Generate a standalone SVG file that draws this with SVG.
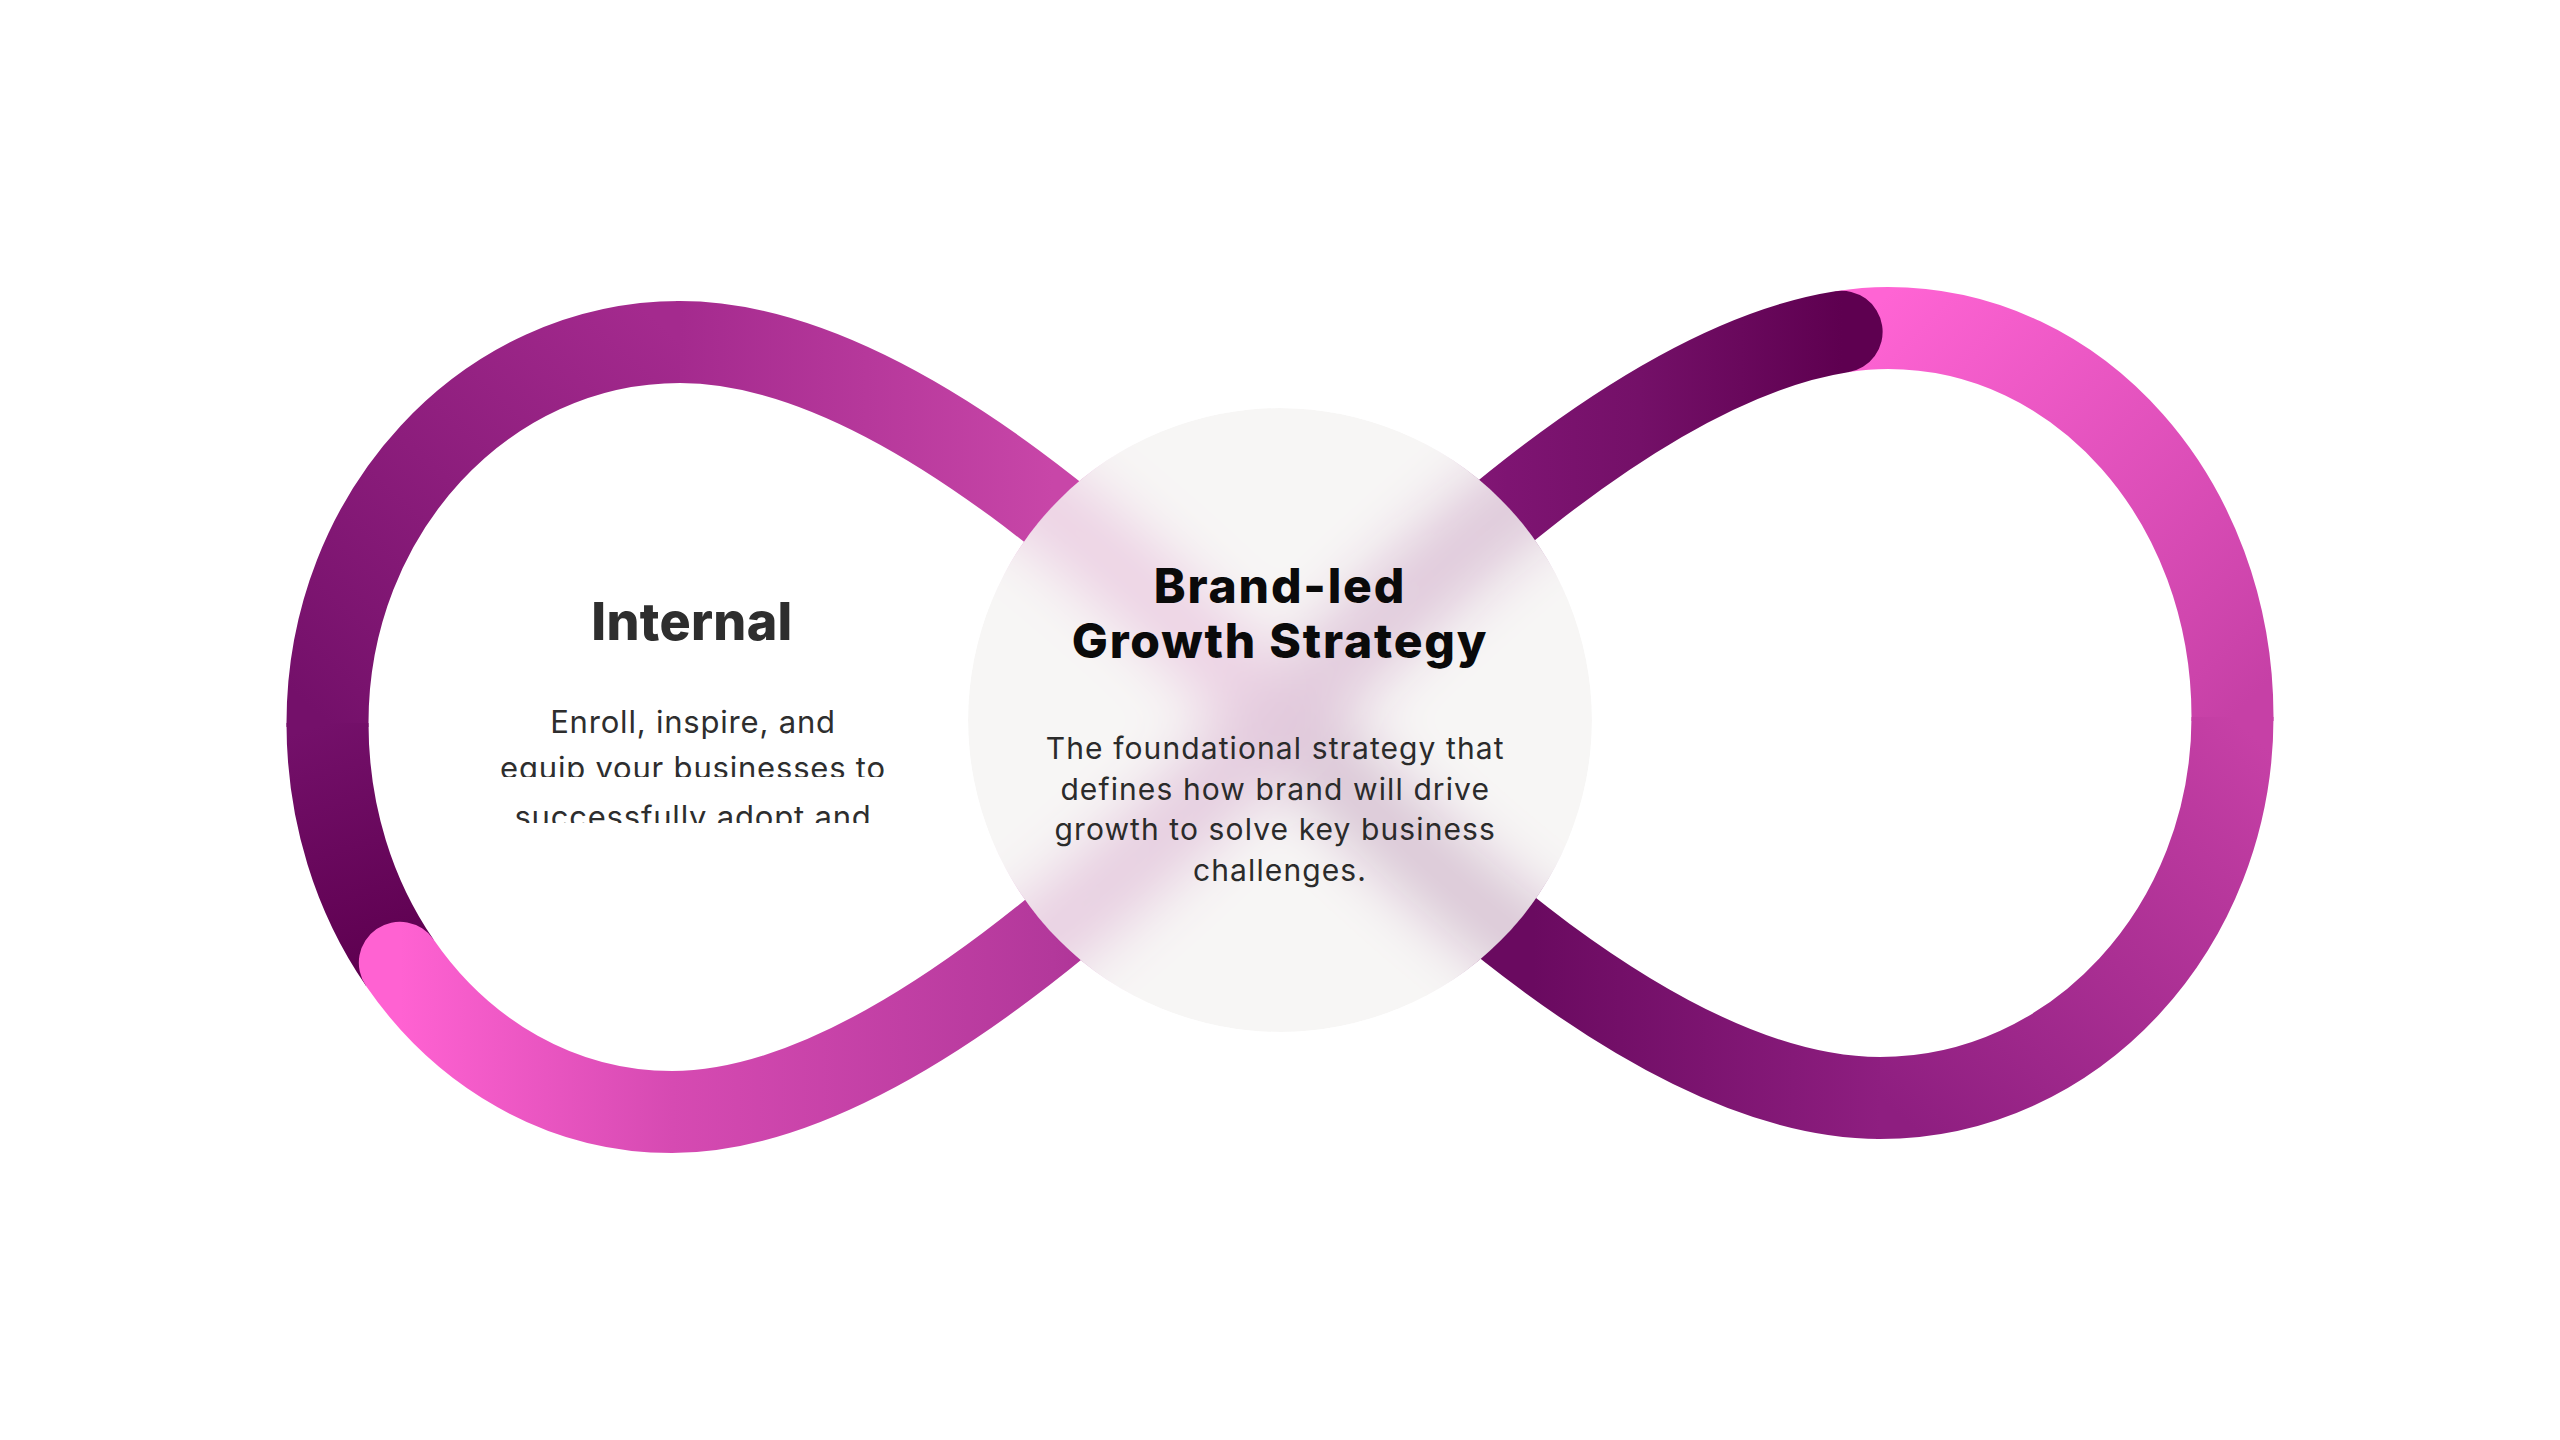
<svg xmlns="http://www.w3.org/2000/svg" xmlns:xlink="http://www.w3.org/1999/xlink" width="2560" height="1440" viewBox="0 0 2560 1440">
<defs>
<style>
.band{fill:none;stroke-width:82;stroke-linecap:butt;stroke-linejoin:round}
.title{font-family:Inter,"Liberation Sans",sans-serif;font-weight:800;text-anchor:middle}
.body{font-family:Inter,"Liberation Sans",sans-serif;font-weight:400;text-anchor:middle}
</style>
<linearGradient id="gA" gradientUnits="userSpaceOnUse" x1="400" y1="0" x2="1842" y2="0">
<stop offset="0" stop-color="#ff62d2"/>
<stop offset="0.189" stop-color="#d64ab2"/>
<stop offset="0.453" stop-color="#b3389b"/>
<stop offset="0.768" stop-color="#7e1472"/>
<stop offset="0.86" stop-color="#741068"/>
<stop offset="1" stop-color="#5e0050"/>
</linearGradient>
<linearGradient id="gB1" gradientUnits="userSpaceOnUse" x1="1850" y1="330" x2="2232" y2="717">
<stop offset="0" stop-color="#ff64d4"/><stop offset="1" stop-color="#c640a6"/>
</linearGradient>
<linearGradient id="gB2" gradientUnits="userSpaceOnUse" x1="2232" y1="717" x2="1880" y2="1098">
<stop offset="0" stop-color="#c640a6"/><stop offset="1" stop-color="#8e1e80"/>
</linearGradient>
<linearGradient id="gB3" gradientUnits="userSpaceOnUse" x1="1880" y1="0" x2="1533" y2="0">
<stop offset="0" stop-color="#8e1e80"/><stop offset="1" stop-color="#6a0a60"/>
</linearGradient>
<linearGradient id="gD1" gradientUnits="userSpaceOnUse" x1="1053" y1="0" x2="680" y2="0">
<stop offset="0" stop-color="#c846a8"/><stop offset="1" stop-color="#a42a8e"/>
</linearGradient>
<linearGradient id="gD2" gradientUnits="userSpaceOnUse" x1="680" y1="342" x2="327.5" y2="723">
<stop offset="0" stop-color="#a42a8e"/><stop offset="1" stop-color="#74106a"/>
</linearGradient>
<linearGradient id="gD3" gradientUnits="userSpaceOnUse" x1="327.5" y1="723" x2="400" y2="963">
<stop offset="0" stop-color="#74106a"/><stop offset="1" stop-color="#5e0050"/>
</linearGradient>
<clipPath id="circleClip"><circle cx="1280" cy="720" r="312"/></clipPath>
<filter id="soft" filterUnits="userSpaceOnUse" x="850" y="300" width="860" height="840">
<feGaussianBlur stdDeviation="30"/>
</filter>
<clipPath id="l2clip"><rect x="400" y="740" width="600" height="37"/></clipPath>
<clipPath id="l3clip"><rect x="400" y="785" width="600" height="38"/></clipPath>
</defs>

<rect width="2560" height="1440" fill="#ffffff"/>

<g id="connectors">
<path id="pB1" class="band" stroke="url(#gB1)" d="M 1841.62 331.76 C 1857.26 329.3 1872.74 328 1888 328 C 2080 328 2232.5 501 2232.5 717 v 4"/>
<path id="pB2" class="band" stroke="url(#gB2)" d="M 2232.5 717 C 2232.5 927 2075 1098 1880 1098 h -4"/>
<path id="pB3" class="band" stroke="url(#gB3)" d="M 1880 1098 C 1660 1098 1407 847 1280 720"/>
<path id="pD1" class="band" stroke="url(#gD1)" d="M 1280 720 C 1153 593 900 342 680 342 h -4"/>
<path id="pD2" class="band" stroke="url(#gD2)" d="M 680 342 C 485 342 327.5 513 327.5 723 v 4"/>
<path id="pD3" class="band" stroke="url(#gD3)" d="M 327.5 723 C 327.5 813.72 354.4 896.85 399.83 962.77"/>
<path id="pA" class="band" stroke="url(#gA)" style="stroke-linecap:round" d="M 399.83 962.77 C 462.57 1053.8 560.64 1112 672 1112 C 890 1112 1153 847 1280 720 C 1398.11 601.89 1633.85 364.42 1841.62 331.76"/>
</g>

<g id="node-center">
<g clip-path="url(#circleClip)">
<rect x="960" y="400" width="640" height="640" fill="#ffffff"/>
<g filter="url(#soft)">
<use xlink:href="#pB3"/>
<use xlink:href="#pD1"/>
<use xlink:href="#pA"/>
</g>
<circle cx="1280" cy="720" r="312" fill="#f5f4f3" opacity="0.8"/>
</g>
<text class="title" font-size="48" letter-spacing="1.8" fill="#0a0a0a" x="1280" y="603">Brand-led</text>
<text class="title" font-size="48" letter-spacing="1.8" fill="#0a0a0a" x="1280" y="658">Growth Strategy</text>
<text class="body" font-size="30" letter-spacing="1.1" fill="#2b2b2b">
<tspan x="1280" y="759">The foundational strategy that</tspan>
<tspan x="1280" y="800">defines how brand will drive</tspan>
<tspan x="1280" y="840">growth to solve key business</tspan>
<tspan x="1280" y="881">challenges.</tspan>
</text>
</g>

<g id="node-internal">
<text class="title" font-size="52" letter-spacing="0.3" fill="#2e2e2e" x="692" y="640">Internal</text>
<text class="body" font-size="31" letter-spacing="0.8" fill="#2e2e2e" x="693" y="733">Enroll, inspire, and</text>
<text class="body" font-size="31" letter-spacing="0.8" fill="#2e2e2e" x="693" y="779" clip-path="url(#l2clip)">equip your businesses to</text>
<text class="body" font-size="31" letter-spacing="0.8" fill="#2e2e2e" x="693" y="828" clip-path="url(#l3clip)">successfully adopt and</text>
</g>
</svg>
